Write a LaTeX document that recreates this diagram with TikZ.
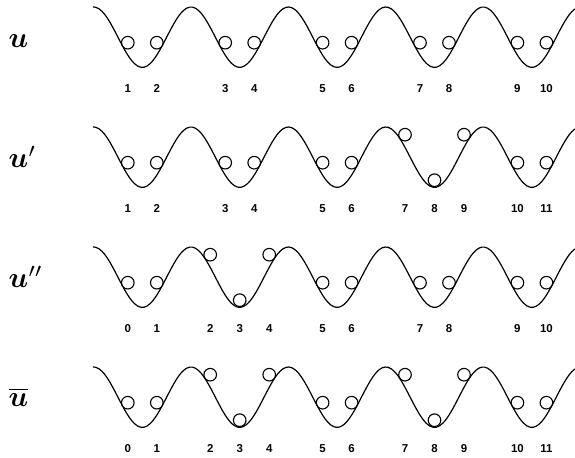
\documentclass[tikz,border=0pt]{standalone}
\usepackage{amsmath}
\usepackage{fontspec}
\newfontfamily\digitfont{Liberation Sans}

% one ball resting in the wave, with its index below
\newcommand\wellball[5]{% row, x, centre line, lift, number
  \pgfmathsetmacro\ballx{#2}%
  \pgfmathsetmacro\bally{#3+(#4)}%
  \pgfmathsetmacro\idxy{#3-55}%
  \node[ball] (ball-#1-#5) at (\ballx,\bally) {};
  \node[idx]  (idx-#1-#5)  at (\ballx,\idxy) {#5};
}

\begin{document}
\begin{tikzpicture}[
    x=1bp, y=1bp,
    wave/.style={line width=1.2bp, line join=round},
    ball/.style={draw, circle, minimum size=12.6bp, inner sep=0pt, line width=1.1bp},
    idx/.style={anchor=base, inner sep=0pt, font=\digitfont\bfseries\fontsize{11.5}{13}\selectfont},
    rowlab/.style={anchor=base west, inner sep=0pt, scale=2.9},
]
    \useasboundingbox (0,0) rectangle (575,458);

    % row labels
    \node[rowlab] (lab-u)    at (8,410.3) {$\boldsymbol{u}$};
    \node[rowlab] (lab-u1)   at (8,290.3) {$\boldsymbol{u}'$};
    \node[rowlab] (lab-u2)   at (8,170.3) {$\boldsymbol{u}''$};
    \node[rowlab] (lab-ubar) at (8,51.3)  {$\overline{\boldsymbol{u}}$};

    % wells: index/kind/first number (p = pair in the well, t = one at the bottom, two up the sides)
    \foreach \r/\yc/\wells in {
        1/420.8/{0/p/1, 1/p/3, 2/p/5, 3/p/7, 4/p/9},
        2/300.8/{0/p/1, 1/p/3, 2/p/5, 3/t/7, 4/p/10},
        3/180.8/{0/p/0, 1/t/2, 2/p/5, 3/p/7, 4/p/9},
        4/60.8/{0/p/0, 1/t/2, 2/p/5, 3/t/7, 4/p/10}}{
        \draw[wave] plot[domain=93:575, samples=161, smooth] (\x, {\yc-30.2*cos(3.6961*(\x-142.3))});
        \foreach \w/\k/\n in \wells {
            \pgfmathsetmacro\xt{142.3+97.4*\w}
            \pgfmathtruncatemacro\na{\n+1}
            \pgfmathtruncatemacro\nb{\n+2}
            \if p\k
                \wellball{\r}{\xt-14.5}{\yc}{-5.5}{\n}
                \wellball{\r}{\xt+14.5}{\yc}{-5.5}{\na}
            \else
                \wellball{\r}{\xt-29.5}{\yc}{22.5}{\n}
                \wellball{\r}{\xt}{\yc}{-23}{\na}
                \wellball{\r}{\xt+29.5}{\yc}{22.5}{\nb}
            \fi
        }
    }
\end{tikzpicture}
\end{document}
